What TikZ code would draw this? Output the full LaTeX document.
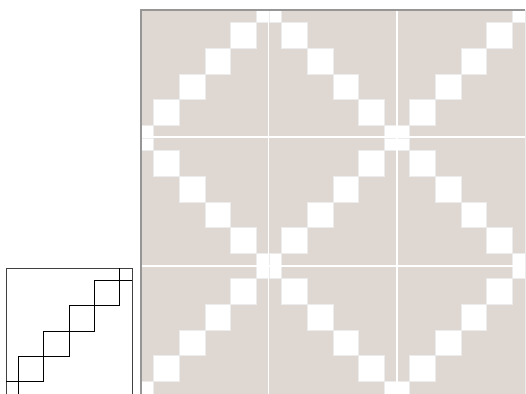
\documentclass[tikz,border=0pt]{standalone}
\definecolor{beige}{RGB}{223,215,209}
\definecolor{sqedge}{RGB}{236,236,236}
\definecolor{framegray}{RGB}{150,150,150}
\tikzset{
  whitesq/.style={fill=white, draw=sqedge, line width=0.8pt},
  outline/.style={draw=black, line width=0.8pt},
  tilesep/.style={draw=white, line width=1.6pt}
}
\begin{document}
\begin{tikzpicture}[x=1pt,y=-1pt]
\useasboundingbox (0,0) rectangle (526,393);
\clip (0,0) rectangle (526,393);
\foreach \r in {0,1,2} {
  \foreach \c in {0,1,2} {
    \pgfmathsetmacro\X{141+128*\c}
    \pgfmathsetmacro\Y{10+128*\r}
    \pgfmathtruncatemacro\p{mod(\r+\c,2)}
    \begin{scope}[shift={(\X,\Y)}, x=25.6pt, y=-25.6pt]
      \fill[beige] (0,0) rectangle (5,5);
      \ifnum\p=0
        \foreach \k in {0,1,2,3} {
          \path[whitesq] (0.5+\k,3.5-\k) rectangle ++(1,1);
        }
        \path[whitesq] (0,4.5) rectangle (0.5,5);
        \path[whitesq] (4.5,0) rectangle (5,0.5);
      \else
        \foreach \k in {0,1,2,3} {
          \path[whitesq] (0.5+\k,0.5+\k) rectangle ++(1,1);
        }
        \path[whitesq] (0,0) rectangle (0.5,0.5);
        \path[whitesq] (4.5,4.5) rectangle (5,5);
      \fi
    \end{scope}
  }
}
\draw[tilesep] (268.5,10) -- (268.5,394);
\draw[tilesep] (397,10) -- (397,394);
\draw[tilesep] (141,137) -- (525,137);
\draw[tilesep] (141,266) -- (525,266);
\draw[framegray, line width=1.2pt] (141,394) -- (141,10) -- (525,10);
\draw[sqedge, line width=0.8pt] (525.3,10) -- (525.3,394);
% small outline tile
\begin{scope}[shift={(6,268)}, x=25.2pt, y=-25.2pt]
  \draw[outline, draw=black!75] (0,0) rectangle (5,5);
  \foreach \k in {0,1,2,3} {
    \draw[outline] (0.5+\k,3.5-\k) rectangle ++(1,1);
  }
  \draw[outline] (0,4.5) -- (0.5,4.5) -- (0.5,5);
  \draw[outline] (4.5,0) -- (4.5,0.5) -- (5,0.5);
\end{scope}
\end{tikzpicture}
\end{document}
